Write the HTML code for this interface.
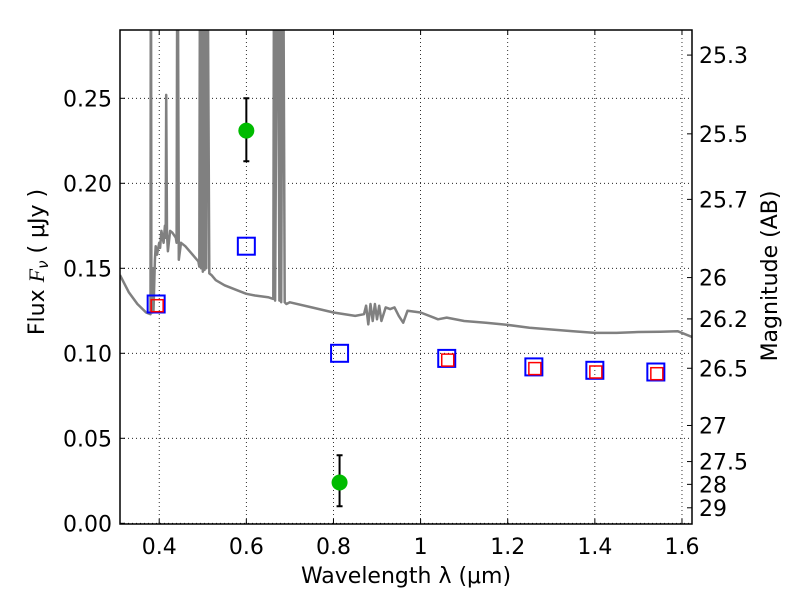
<!DOCTYPE html>
<html><head><meta charset="utf-8"><style>
body{margin:0;background:#fff;}
svg text{font-family:"DejaVu Sans","Liberation Sans",sans-serif;}
</style></head><body>
<svg id="chart" width="800" height="600">
<rect width="800" height="600" fill="#fff"/>
<g id="grid"></g>
<g id="spec"></g>
<g id="marks"></g>
<g id="axes"></g>
</svg>
<script>
const xTicks=[0.4,0.6,0.8,1.0,1.2,1.4,1.6];
const xTickLabels=["0.4","0.6","0.8","1","1.2","1.4","1.6"];
const yTicks=[0,0.05,0.10,0.15,0.20,0.25];
const yTickLabels=["0.00","0.05","0.10","0.15","0.20","0.25"];
const magTicks=[25.3,25.5,25.7,26,26.2,26.5,27,27.5,28,29];
const magLabels=["25.3","25.5","25.7","26","26.2","26.5","27","27.5","28","29"];
const specWave=[0.31,0.33,0.35,0.37,0.38,0.381,0.382,0.385,0.386,0.387,0.39,0.392,0.395,0.40,0.402,0.405,0.41,0.413,0.415,0.416,0.418,0.42,0.425,0.43,0.438,0.44,0.442,0.445,0.45,0.46,0.47,0.48,0.49,0.492,0.494,0.496,0.498,0.50,0.502,0.504,0.506,0.508,0.51,0.515,0.52,0.53,0.55,0.58,0.6,0.62,0.65,0.662,0.664,0.666,0.672,0.676,0.678,0.68,0.684,0.688,0.692,0.70,0.75,0.80,0.85,0.87,0.875,0.88,0.885,0.89,0.895,0.90,0.905,0.91,0.92,0.93,0.94,0.95,0.96,0.97,1.0,1.03,1.04,1.06,1.1,1.15,1.2,1.25,1.3,1.35,1.4,1.45,1.5,1.55,1.59,1.6,1.623];
const specFlux=[0.146,0.136,0.129,0.124,0.123,0.40,0.13,0.124,0.15,0.125,0.155,0.163,0.158,0.165,0.162,0.172,0.165,0.175,0.168,0.252,0.17,0.16,0.172,0.171,0.168,0.165,0.40,0.155,0.165,0.163,0.16,0.157,0.154,0.151,0.40,0.15,0.40,0.148,0.40,0.149,0.40,0.15,0.40,0.147,0.146,0.143,0.140,0.137,0.135,0.134,0.133,0.132,0.40,0.131,0.40,0.131,0.40,0.130,0.40,0.130,0.129,0.130,0.127,0.124,0.122,0.123,0.128,0.117,0.129,0.119,0.129,0.12,0.128,0.119,0.127,0.126,0.127,0.122,0.118,0.125,0.124,0.121,0.120,0.121,0.119,0.118,0.1167,0.115,0.114,0.113,0.112,0.112,0.1125,0.1127,0.113,0.112,0.1096];
const obsWave=[0.60,0.814];
const obsFlux=[0.231,0.024];
const obsLo=[0.213,0.010];
const obsHi=[0.250,0.040];
const modelWave=[0.393,0.60,0.814,1.06,1.26,1.40,1.54];
const modelFlux=[0.129,0.163,0.100,0.097,0.092,0.090,0.089];
const synWave=[0.393,1.06,1.26,1.40,1.54];
const synFlux=[0.128,0.096,0.091,0.089,0.088];

const L=120,R=692,T=30,B=524;
const xmin=0.31,xmax=1.623,y0=523.3,ppu=1700;
const X=v=>L+(v-xmin)/(xmax-xmin)*(R-L);
const Y=v=>y0-v*ppu;
const NS="http://www.w3.org/2000/svg";
function mk(tag,attrs,parent,txt){const e=document.createElementNS(NS,tag);for(const k in attrs)e.setAttribute(k,attrs[k]);if(txt!==undefined)e.textContent=txt;document.getElementById(parent).appendChild(e);return e;}

xTicks.forEach((t,i)=>{const x=X(t);
 const g=mk('line',{x1:x,x2:x,y1:T,y2:B,stroke:'#000','stroke-width':0.8,'stroke-dasharray':'1,3'},'grid');
 
 
 mk('line',{x1:x,x2:x,y1:B,y2:B-5,stroke:'#000'},'axes');
 mk('line',{x1:x,x2:x,y1:T,y2:T+5,stroke:'#000'},'axes');
 const tl=mk('text',{x:x,y:B+30,'font-size':22,'text-anchor':'middle'},'axes',xTickLabels[i]);
 
 
});
yTicks.forEach((t,i)=>{const y=Y(t);
 const g=mk('line',{x1:L,x2:R,y1:y,y2:y,stroke:'#000','stroke-width':0.8,'stroke-dasharray':'1,3'},'grid');
 
 
 mk('line',{x1:L,x2:L+5,y1:y,y2:y,stroke:'#000'},'axes');
 const tl=mk('text',{x:L-8,y:y+8,'font-size':22,'text-anchor':'end'},'axes',yTickLabels[i]);
 
 
});
magTicks.forEach((m,i)=>{const f=Math.pow(10,(23.9-m)/2.5);const y=Y(f);
 mk('line',{x1:R,x2:R-5,y1:y,y2:y,stroke:'#000'},'axes');
 const tl=mk('text',{x:R+7,y:y+8,'font-size':22},'axes',magLabels[i]);
 
 
});

mk('clipPath',{id:'clip'},'spec');
mk('rect',{x:L,y:T,width:R-L,height:B-T},'clip');
let d='';specWave.forEach((w,i)=>{d+=(i?'L':'M')+X(w).toFixed(1)+','+Y(specFlux[i]).toFixed(1);});
const sp=mk('path',{d:d,fill:'none',stroke:'#808080','stroke-width':2.5,'clip-path':'url(#clip)','stroke-linejoin':'round'},'spec');



modelWave.forEach((w,i)=>{const x=X(w),y=Y(modelFlux[i]);
 const r=mk('rect',{x:x-8.5,y:y-8.5,width:17,height:17,fill:'none',stroke:'#0000ff','stroke-width':2},'marks');
 
 
});
synWave.forEach((w,i)=>{const x=X(w)+1,y=Y(synFlux[i]);
 const r=mk('rect',{x:x-6,y:y-6,width:12,height:12,fill:'none',stroke:'#ff0000','stroke-width':1.5},'marks');
 
 
});
obsWave.forEach((w,i)=>{const x=X(w);
 const e=mk('path',{d:`M${x},${Y(obsLo[i])}V${Y(obsHi[i])}M${x-3},${Y(obsLo[i])}h6M${x-3},${Y(obsHi[i])}h6`,stroke:'#000','stroke-width':2,fill:'none'},'marks');
 
 
 const c=mk('circle',{cx:x,cy:Y(obsFlux[i]),r:8,fill:'#00bb00'},'marks');
 
 
});

const fr=mk('rect',{x:L,y:T,width:R-L,height:B-T,fill:'none',stroke:'#000','stroke-width':1.5},'axes');


const xt=mk('text',{x:406,y:583,'font-size':22,'text-anchor':'middle'},'axes','Wavelength  λ (μm)');


const yt=mk('text',{x:0,y:0,'font-size':22,'text-anchor':'middle',transform:'translate(44,262) rotate(-90)'},'axes');
yt.innerHTML='Flux  <tspan font-style="italic" font-family="Liberation Serif, serif">F</tspan><tspan font-size="15" dy="4" font-style="italic">ν</tspan><tspan dy="-4">  ( μJy )</tspan>';


const rt=mk('text',{x:0,y:0,'font-size':22,'text-anchor':'middle',transform:'translate(777,276) rotate(-90)'},'axes','Magnitude (AB)');


</script>
</body></html>
